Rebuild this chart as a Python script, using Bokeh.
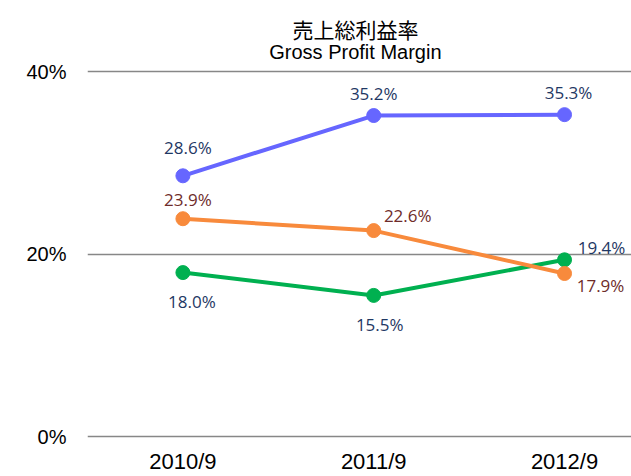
from bokeh.plotting import figure
from bokeh.models import Range1d, FixedTicker, Label, ColumnDataSource
from bokeh.core.properties import value
from bokeh.embed import file_html
from bokeh.resources import INLINE

# ---- data ----
categories = ["2010/9", "2011/9", "2012/9"]
blue_vals = [28.6, 35.2, 35.3]
orange_vals = [23.9, 22.6, 17.9]
green_vals = [18.0, 15.5, 19.4]
y_ticks = [0, 20, 40]
y_tick_labels = ["0%", "20%", "40%"]
title_jp = "売上総利益率"
title_en = "Gross Profit Margin"

# ---- styles (colors, label offsets in px) ----
styles = [
    (blue_vals, "#6666FF", "#1F3864", [5, 0, 4], [-28, -22, -22]),
    (green_vals, "#00B050", "#1F3864", [9, 6, 37], [29, 29, -12]),
    (orange_vals, "#F88A3C", "#6E2C2A", [5, 34, 36], [-19, -15, 12]),
]

xs = list(range(len(categories)))

p = figure(width=631, height=476,
           x_range=Range1d(-0.5, 2.351), y_range=Range1d(-0.5, 47.8),
           output_backend="svg", toolbar_location=None, title_location=None,
           min_border_left=87, min_border_right=0, min_border_top=0,
           min_border_bottom=32)
p.outline_line_color = None
p.background_fill_color = "white"
p.border_fill_color = "white"

# grid
p.xgrid.grid_line_color = None
p.ygrid.ticker = FixedTicker(ticks=y_ticks)
p.ygrid.grid_line_color = "#878787"
p.ygrid.grid_line_width = 1.5

# y axis
p.yaxis.ticker = FixedTicker(ticks=y_ticks)
p.yaxis.major_label_overrides = {t: l for t, l in zip(y_ticks, y_tick_labels)}
p.yaxis.axis_line_color = None
p.yaxis.major_tick_line_color = None
p.yaxis.minor_tick_line_color = None
p.yaxis.major_label_standoff = 15
p.yaxis.major_label_text_font = "Liberation Sans"
p.yaxis.major_label_text_font_size = "20px"
p.yaxis.major_label_text_color = "black"

# x axis
p.xaxis.ticker = FixedTicker(ticks=xs)
p.xaxis.major_label_overrides = {x: c for x, c in zip(xs, categories)}
p.xaxis.axis_line_color = None
p.xaxis.major_tick_line_color = None
p.xaxis.minor_tick_line_color = None
p.xaxis.major_label_standoff = 1
p.xaxis.major_label_text_font = "Liberation Sans"
p.xaxis.major_label_text_font_size = "22px"
p.xaxis.major_label_text_color = "black"

for vals, col, lab_col, dx, dy in styles:
    src = ColumnDataSource(dict(
        x=xs, y=vals,
        label=[f"{v:.1f}%" for v in vals],
        dx=dx, dy=dy,
    ))
    p.line("x", "y", source=src, line_color=col, line_width=4)
    p.scatter("x", "y", source=src, size=14, fill_color=col, line_color=col)
    p.text("x", "y", text="label", source=src, x_offset="dx", y_offset="dy",
           text_align="center", text_baseline="middle",
           text_font=value("Open Sans"), text_font_size="17px",
           text_color=lab_col)

# two-line chart title
p.add_layout(Label(x=0.904, y=44.65, text=title_jp, text_align="center",
                   text_baseline="middle", text_font="Noto Sans CJK JP",
                   text_font_size="21px", text_color="black"))
p.add_layout(Label(x=0.904, y=42.2, text=title_en, text_align="center",
                   text_baseline="middle", text_font="Liberation Sans",
                   text_font_size="20px", text_color="black"))

open("out.html", "w").write(file_html(p, INLINE))
